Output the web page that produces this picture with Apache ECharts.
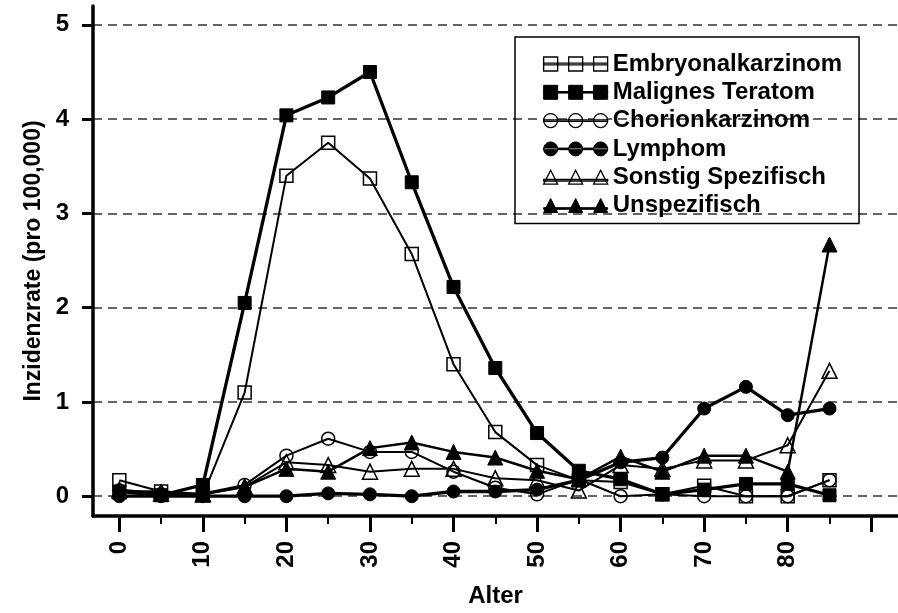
<!DOCTYPE html>
<html><head><meta charset="utf-8">
<script src="https://cdn.jsdelivr.net/npm/echarts@6/dist/echarts.min.js"></script>
<style>html,body{margin:0;padding:0;background:#fff}#c{width:898px;height:613px}</style>
</head><body><div id="c"></div>
<script>
const ages = [0,5,10,15,20,25,30,35,40,45,50,55,60,65,70,75,80,85];
const embryonal = [0.17,0.05,0.01,1.10,3.40,3.75,3.37,2.57,1.40,0.68,0.33,0.17,0.15,0.02,0.11,0.00,0.00,0.17];
const teratom   = [0.05,0.01,0.12,2.05,4.04,4.23,4.50,3.33,2.22,1.36,0.67,0.27,0.18,0.02,0.07,0.13,0.13,0.01];
const chorion   = [0.06,0.02,0.03,0.12,0.43,0.61,0.47,0.47,0.26,0.09,0.02,0.18,0.00,0.02,0.00,0.00,0.00,0.17];
const lymphom   = [0.00,0.00,0.00,0.00,0.00,0.03,0.02,0.00,0.05,0.05,0.07,0.17,0.36,0.41,0.93,1.16,0.86,0.93];
const sonstig   = [0.07,0.03,0.02,0.10,0.36,0.33,0.26,0.29,0.29,0.19,0.17,0.06,0.33,0.29,0.38,0.38,0.54,1.33];
const unspez    = [0.05,0.05,0.02,0.10,0.29,0.26,0.51,0.57,0.47,0.41,0.27,0.18,0.42,0.26,0.43,0.43,0.26,2.67];
const seriesNames = ['Embryonalkarzinom','Malignes Teratom','Chorionkarzinom','Lymphom','Sonstig Spezifisch','Unspezifisch'];
const xMajorTicks = [0,10,20,30,40,50,60,70,80,90];
const xLabels = [0,10,20,30,40,50,60,70,80];
const xMinorTicks = [5,15,25,35,45,55,65,75,85];
const yTicks = [0,1,2,3,4,5];

const FONT = 'Liberation Sans, Arial, sans-serif';
const sqIcon = 'path://M0,0h14v14h-14zM25,0h14v14h-14zM50,0h14v14h-14zM0,6.2h64v1.6h-64z';
const ciIcon = 'path://M0,7a7,7 0 1,0 14,0a7,7 0 1,0 -14,0zM25,7a7,7 0 1,0 14,0a7,7 0 1,0 -14,0zM50,7a7,7 0 1,0 14,0a7,7 0 1,0 -14,0zM0,6.2h64v1.6h-64z';
const trIcon = 'path://M7,0L14,14L0,14zM32,0L39,14L25,14zM57,0L64,14L50,14zM0,9.2h64v1.6h-64z';

function mk(name, vals, symbol, filled, lw) {
  return {
    name, type: 'line', data: ages.map((a, i) => [a, vals[i]]),
    symbol, symbolSize: symbol === 'triangle' ? 15 : 13,
    lineStyle: {color: '#000', width: lw},
    itemStyle: filled ? {color: '#000', borderColor: '#000', borderWidth: 1}
                      : {color: 'rgba(255,255,255,0)', borderColor: '#000', borderWidth: 1.5},
    emphasis: {disabled: true}, animation: false, z: 2
  };
}
const series = [
  mk(seriesNames[0], embryonal, 'rect', false, 2),
  mk(seriesNames[1], teratom, 'rect', true, 3.3),
  mk(seriesNames[2], chorion, 'circle', false, 2),
  mk(seriesNames[3], lymphom, 'circle', true, 3.3),
  mk(seriesNames[4], sonstig, 'triangle', false, 2),
  mk(seriesNames[5], unspez, 'triangle', true, 2.5)
];
const icons = [sqIcon, sqIcon, ciIcon, ciIcon, trIcon, trIcon];
const filledArr = [false, true, false, true, false, true];

const chart = echarts.init(document.getElementById('c'), null, {renderer: 'canvas'});
chart.setOption({
  animation: false,
  backgroundColor: '#fff',
  grid: {left: 93, right: 0, top: 6, bottom: 95},
  legend: {
    orient: 'vertical', left: 515, top: 37,
    padding: [15, 17, 6, 28], itemGap: 4.3,
    itemWidth: 64, itemHeight: 14,
    borderColor: '#000', borderWidth: 1.5,
    textStyle: {fontFamily: FONT, fontWeight: 'bold', fontSize: 24, color: '#000', lineHeight: 24},
    data: seriesNames.map((n, i) => ({
      name: n, icon: icons[i],
      itemStyle: filledArr[i] ? {color: '#000', borderColor: '#000', borderWidth: 1}
                              : {color: '#fff', borderColor: '#000', borderWidth: 1.3}
    })),
    selectedMode: false
  },
  xAxis: [{
    type: 'value', min: -3.15, max: 93.2, position: 'bottom',
    name: 'Alter', nameLocation: 'middle', nameGap: 68,
    nameTextStyle: {fontFamily: FONT, fontWeight: 'bold', fontSize: 24, color: '#000'},
    axisLine: {show: true, onZero: false, lineStyle: {color: '#000', width: 3.5}},
    axisTick: {show: true, length: 16, customValues: xMajorTicks, lineStyle: {color: '#000', width: 3}},
    axisLabel: {customValues: xLabels, rotate: 90, margin: 25, fontFamily: FONT, fontWeight: 'bold', fontSize: 24, color: '#000'},
    splitLine: {show: false}
  }, {
    type: 'value', min: -3.15, max: 93.2, position: 'bottom',
    axisLine: {show: false, onZero: false},
    axisTick: {show: true, length: 8, customValues: xMinorTicks, lineStyle: {color: '#000', width: 2}},
    axisLabel: {show: false},
    splitLine: {show: false}
  }],
  yAxis: {
    type: 'value', min: -0.21, max: 5.2,
    name: 'Inzidenzrate (pro 100,000)', nameLocation: 'middle', nameGap: 47,
    nameTextStyle: {fontFamily: FONT, fontWeight: 'bold', fontSize: 23, color: '#000'},
    axisLine: {show: true, onZero: false, lineStyle: {color: '#000', width: 3.5}},
    axisTick: {show: true, length: 11, customValues: yTicks, lineStyle: {color: '#000', width: 3}},
    axisLabel: {customValues: yTicks, margin: 24, fontFamily: FONT, fontWeight: 'bold', fontSize: 24, color: '#000'},
    splitLine: {show: true, lineStyle: {color: '#333', width: 1.5, type: [9, 6]}}
  },
  series
});
</script></body></html>
